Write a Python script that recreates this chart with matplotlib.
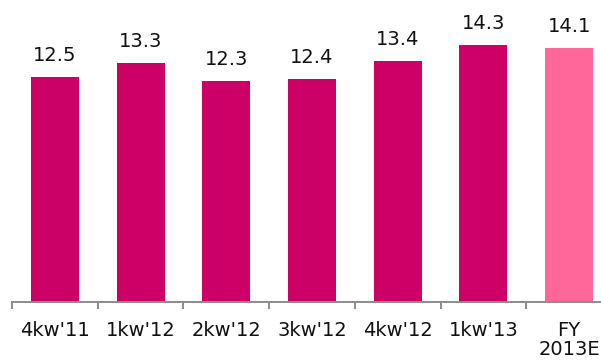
import matplotlib
matplotlib.use("Agg")
import matplotlib.pyplot as plt
from matplotlib.ticker import FixedLocator

categories = ["4kw'11", "1kw'12", "2kw'12", "3kw'12", "4kw'12", "1kw'13", "FY\n2013E"]
values = [12.5, 13.3, 12.3, 12.4, 13.4, 14.3, 14.1]
labels = ["12.5", "13.3", "12.3", "12.4", "13.4", "14.3", "14.1"]
colors = ["#CC0066"] * 6 + ["#FF6699"]

fig = plt.figure(figsize=(6.01, 3.61), dpi=100)
ax = fig.add_axes([12/601, 1 - 302/361, 600/601, 302/361])
x = list(range(len(categories)))
ax.bar(x, values, width=0.56, color=colors, zorder=2)
ax.set_xlim(-0.5, 6.5)
ax.set_ylim(0, 302/18)

for xi, v, lab in zip(x, values, labels):
    ax.annotate(lab, (xi, v), xytext=(0, 8.5), textcoords="offset points",
                ha="center", va="bottom", fontsize=14, color="#111111")

for s in ["top", "right", "left"]:
    ax.spines[s].set_visible(False)
ax.spines["bottom"].set_color("#8c8c8c")
ax.spines["bottom"].set_linewidth(1.4)
ax.set_yticks([])
ax.set_xticks(x)
ax.set_xticklabels(categories, fontsize=14, color="#111111", linespacing=1.0)
ax.tick_params(axis="x", which="major", length=0, pad=14)
ax.xaxis.set_minor_locator(FixedLocator([i - 0.5 for i in range(len(categories))]))
ax.tick_params(axis="x", which="minor", length=5, width=1.4, color="#8c8c8c", direction="out")

fig.savefig("out.png", dpi=100)
